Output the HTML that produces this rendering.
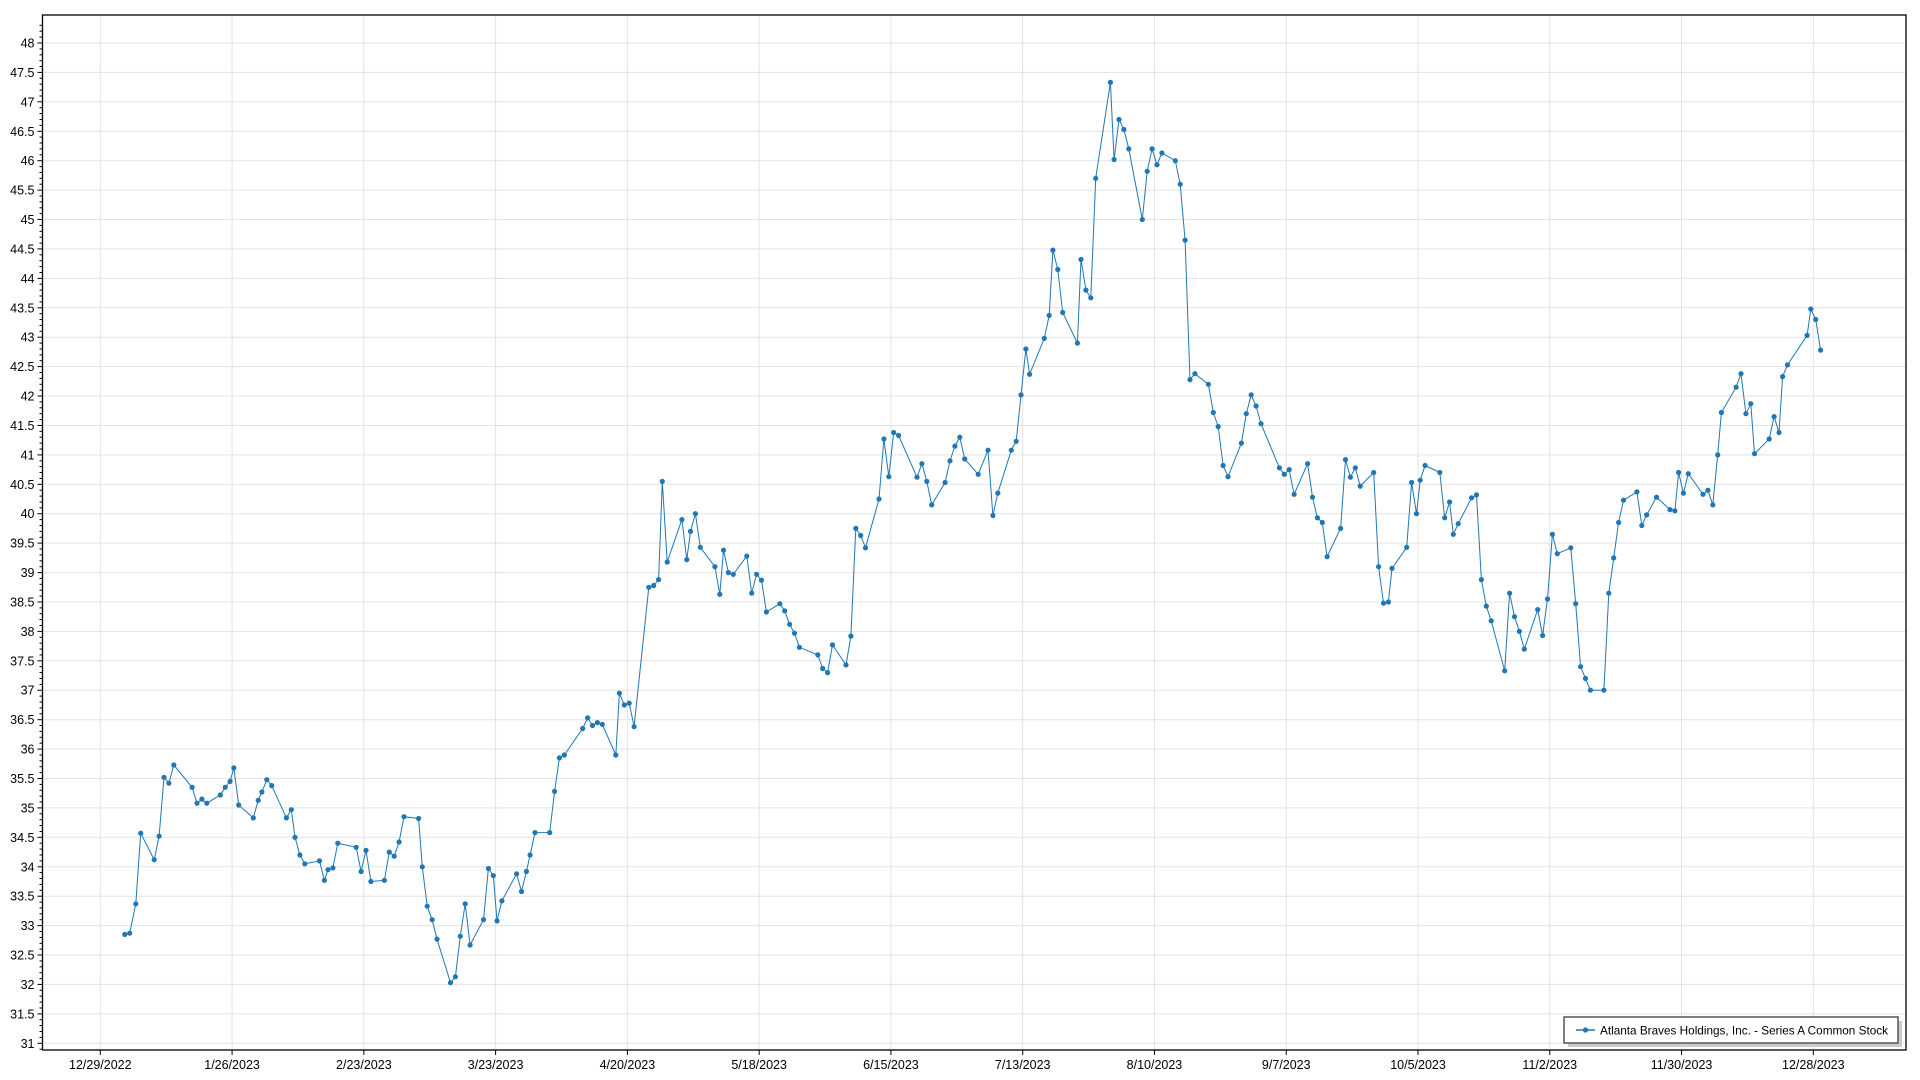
<!DOCTYPE html>
<html><head><meta charset="utf-8"><style>
html,body{margin:0;padding:0;background:#fff;}
svg{display:block;font-family:"Liberation Sans",sans-serif;}
</style></head><body>
<svg id="c" width="1920" height="1080" xmlns="http://www.w3.org/2000/svg"></svg>
<script>
const d=[102,32.85,106,32.87,111,33.37,115,34.57,126,34.12,130,34.52,134,35.52,138,35.42,142,35.73,157,35.35,161,35.08,165,35.15,169,35.08,180,35.22,184,35.35,188,35.45,191,35.68,195,35.05,207,34.83,211,35.13,214,35.27,218,35.48,222,35.38,234,34.83,238,34.97,241,34.5,245,34.2,249,34.05,261,34.1,265,33.77,268,33.95,272,33.98,276,34.4,291,34.33,295,33.92,299,34.28,303,33.75,314,33.77,318,34.25,322,34.18,326,34.42,330,34.85,342,34.82,345,34.0,349,33.33,353,33.1,357,32.77,368,32.03,372,32.13,376,32.82,380,33.37,384,32.67,395,33.1,399,33.97,403,33.85,406,33.08,410,33.42,422,33.88,426,33.58,430,33.92,433,34.2,437,34.58,449,34.58,453,35.28,457,35.85,461,35.9,476,36.35,480,36.53,484,36.4,488,36.45,492,36.42,503,35.9,506,36.95,510,36.75,514,36.78,518,36.38,530,38.75,534,38.78,538,38.88,541,40.55,545,39.18,557,39.9,561,39.22,564,39.7,568,40.0,572,39.43,584,39.1,588,38.63,591,39.38,595,39.0,599,38.97,610,39.28,614,38.65,618,38.97,622,38.87,626,38.33,637,38.47,641,38.35,645,38.12,649,37.97,653,37.73,668,37.6,672,37.37,676,37.3,680,37.77,691,37.43,695,37.92,699,39.75,703,39.63,707,39.42,718,40.25,722,41.27,726,40.63,730,41.38,734,41.33,749,40.62,753,40.85,757,40.55,761,40.15,772,40.53,776,40.9,780,41.15,784,41.3,788,40.93,799,40.67,807,41.08,811,39.97,815,40.35,826,41.08,830,41.23,834,42.02,838,42.8,841,42.37,853,42.98,857,43.37,860,44.48,864,44.15,868,43.42,880,42.9,883,44.32,887,43.8,891,43.67,895,45.7,907,47.33,910,46.02,914,46.7,918,46.53,922,46.2,933,45.0,937,45.82,941,46.2,945,45.93,949,46.13,960,46.0,964,45.6,968,44.65,972,42.28,976,42.38,987,42.2,991,41.72,995,41.48,999,40.82,1003,40.63,1014,41.2,1018,41.7,1022,42.02,1026,41.83,1030,41.53,1045,40.78,1049,40.67,1053,40.75,1057,40.33,1068,40.85,1072,40.28,1076,39.93,1080,39.85,1084,39.27,1095,39.75,1099,40.92,1103,40.62,1107,40.78,1111,40.47,1122,40.7,1126,39.1,1130,38.48,1134,38.5,1137,39.07,1149,39.43,1153,40.53,1157,40.0,1160,40.57,1164,40.82,1176,40.7,1180,39.93,1184,40.2,1187,39.65,1191,39.83,1202,40.27,1206,40.32,1210,38.88,1214,38.43,1218,38.18,1229,37.33,1233,38.65,1237,38.25,1241,38.0,1245,37.7,1256,38.37,1260,37.93,1264,38.55,1268,39.65,1272,39.32,1283,39.42,1287,38.47,1291,37.4,1295,37.2,1299,37.0,1310,37.0,1314,38.65,1318,39.25,1322,39.85,1326,40.23,1337,40.37,1341,39.8,1345,39.98,1353,40.28,1364,40.07,1368,40.05,1371,40.7,1375,40.35,1379,40.68,1391,40.33,1395,40.4,1399,40.15,1403,41.0,1406,41.72,1418,42.15,1422,42.38,1426,41.7,1430,41.87,1433,41.02,1445,41.27,1449,41.65,1453,41.38,1456,42.33,1460,42.53,1476,43.03,1479,43.48,1483,43.3,1487,42.78];
const L=42.5,T=15,R=1906,B=1050;
const X=x=>100.3+(x-82)*1.2244, Y=v=>43+(48-v)*58.84;
let s='';
for(let v=31;v<=48.001;v+=0.5){const y=Y(v).toFixed(1);s+=`<line x1="${L}" x2="${R}" y1="${y}" y2="${y}" stroke="#e3e3e3"/>`;}
const dates=["12/29/2022","1/26/2023","2/23/2023","3/23/2023","4/20/2023","5/18/2023","6/15/2023","7/13/2023","8/10/2023","9/7/2023","10/5/2023","11/2/2023","11/30/2023","12/28/2023"];
const xs=dates.map((_,i)=>100.3+i*131.77);
xs.forEach(x=>{s+=`<line x1="${x}" x2="${x}" y1="${T}" y2="${B}" stroke="#e3e3e3"/>`;});
s+=`<rect x="${L}" y="${T}" width="${R-L}" height="${B-T}" fill="none" stroke="#000" stroke-width="1.3"/>`;
for(let i=0;i<=175;i++){const v=31+i*0.1-0.2;if(v<30.85)continue;const y=Y(v);if(y<T||y>B)continue;const maj=Math.abs(v*2-Math.round(v*2))<0.01;s+=`<line x1="${L-(maj?5:3)}" x2="${L}" y1="${y.toFixed(1)}" y2="${y.toFixed(1)}" stroke="#000"/>`;if(maj){s+=`<text x="${L-8}" y="${(y+4.5).toFixed(1)}" font-size="12.5" text-anchor="end">${+v.toFixed(1)}</text>`;}}
xs.forEach((x,i)=>{s+=`<line x1="${x}" x2="${x}" y1="${B}" y2="${B+5}" stroke="#000"/><text x="${x}" y="${B+19}" font-size="12.5" text-anchor="middle">${dates[i]}</text>`;});
let p='',c='';
for(let i=0;i<d.length;i+=2){const x=X(d[i]).toFixed(1),y=Y(d[i+1]).toFixed(1);p+=(i?'L':'M')+x+' '+y;c+=`<circle cx="${x}" cy="${y}" r="2.6" fill="#1f77b4"/>`;}
s+=`<path d="${p}" fill="none" stroke="#1f77b4" stroke-width="1"/>`+c;
s+=`<rect x="1568" y="1021" width="334" height="26" fill="#ccc"/><rect x="1564" y="1017" width="334" height="26" fill="#fff" stroke="#555" stroke-width="1.5"/>`;
s+=`<line x1="1576" x2="1595" y1="1030" y2="1030" stroke="#1f77b4" stroke-width="1.5"/><circle cx="1585.5" cy="1030" r="2.6" fill="#1f77b4"/>`;
s+=`<text x="1600" y="1034.5" font-size="12" textLength="288" lengthAdjust="spacingAndGlyphs">Atlanta Braves Holdings, Inc. - Series A Common Stock</text>`;
document.getElementById('c').innerHTML=s;
</script>
</body></html>
